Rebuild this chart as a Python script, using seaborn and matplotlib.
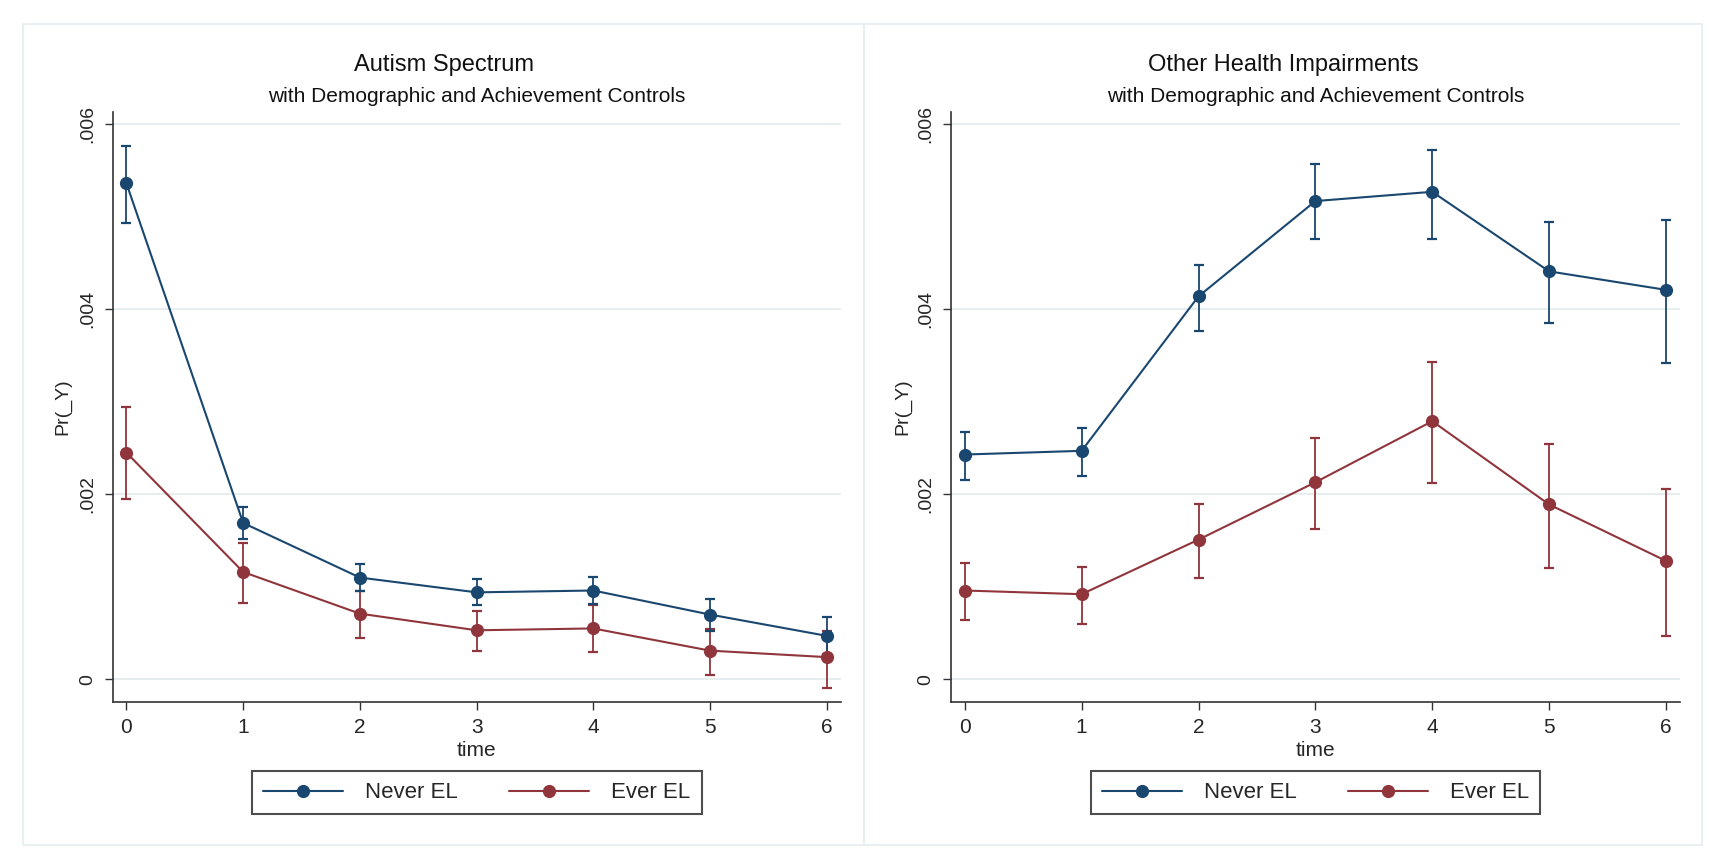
import matplotlib
matplotlib.use("Agg")
import matplotlib.pyplot as plt
from matplotlib import font_manager
from matplotlib.patches import Rectangle
import seaborn as sns
import pandas as pd

# ---- data -------------------------------------------------------------
time = [0, 1, 2, 3, 4, 5, 6]
groups = ["Never EL", "Ever EL"]
y_ticks = [0.0, 0.002, 0.004, 0.006]
y_tick_labels = ["0", ".002", ".004", ".006"]

panel_titles = ["Autism Spectrum", "Other Health Impairments"]
subtitle = "with Demographic and Achievement Controls"

autism_never = [0.00536, 0.00169, 0.00110, 0.00094, 0.00096, 0.00070, 0.00047]
autism_never_lo = [0.00493, 0.00152, 0.00096, 0.00080, 0.00081, 0.00052, 0.00027]
autism_never_hi = [0.00577, 0.00186, 0.00125, 0.00108, 0.00111, 0.00087, 0.00067]
autism_ever = [0.00245, 0.00116, 0.00071, 0.00053, 0.00055, 0.00031, 0.00024]
autism_ever_lo = [0.00195, 0.00082, 0.00045, 0.00031, 0.00029, 0.00005, -0.00009]
autism_ever_hi = [0.00294, 0.00147, 0.00095, 0.00074, 0.00080, 0.00054, 0.00052]

ohi_never = [0.00243, 0.00247, 0.00414, 0.00517, 0.00527, 0.00441, 0.00421]
ohi_never_lo = [0.00215, 0.00220, 0.00377, 0.00476, 0.00476, 0.00385, 0.00342]
ohi_never_hi = [0.00267, 0.00272, 0.00448, 0.00557, 0.00572, 0.00494, 0.00497]
ohi_ever = [0.00096, 0.00092, 0.00151, 0.00213, 0.00279, 0.00189, 0.00128]
ohi_ever_lo = [0.00064, 0.00060, 0.00110, 0.00163, 0.00212, 0.00120, 0.00047]
ohi_ever_hi = [0.00126, 0.00121, 0.00190, 0.00261, 0.00343, 0.00254, 0.00206]

# ---- style ------------------------------------------------------------
sns.set_theme(style="white")
installed = {f.name for f in font_manager.fontManager.ttflist}
narrow = "Liberation Sans Narrow" if "Liberation Sans Narrow" in installed else "Liberation Sans"
plt.rcParams["font.family"] = [narrow, "DejaVu Sans"]
rot_font = ["Liberation Sans", "DejaVu Sans"]

NAVY = "#1a476f"
MAROON = "#90353b"
GRID = "#e4ecee"
BORDER = "#e6eef0"
palette = {"Never EL": NAVY, "Ever EL": MAROON}

fig = plt.figure(figsize=(17.09, 8.55), dpi=100)
fig.patch.set_facecolor("white")

# layout in pixels of the 1709x855 canvas
W, H = 1709.0, 855.0
ax_bottom = 1 - 701.7 / H
ax_height = (701.7 - 111.7) / H
axes_px = [(112.7, 840.7), (951.0, 1680.0)]
ylabel_px = [62.7, 903.0]
title_x = [444.0, 1283.0]
panel_rects = [(23, 864), (864, 1702)]

panels = [
    (autism_never, autism_never_lo, autism_never_hi,
     autism_ever, autism_ever_lo, autism_ever_hi),
    (ohi_never, ohi_never_lo, ohi_never_hi,
     ohi_ever, ohi_ever_lo, ohi_ever_hi),
]

for i, (nv, nlo, nhi, ev, elo, ehi) in enumerate(panels):
    # light frame around each panel
    x0, x1 = panel_rects[i]
    fig.patches.append(Rectangle((x0 / W, 1 - 845 / H), (x1 - x0) / W, (845 - 24) / H,
                                 transform=fig.transFigure, fill=False,
                                 edgecolor=BORDER, linewidth=1.2, zorder=0))

    l, r = axes_px[i]
    ax = fig.add_axes([l / W, ax_bottom, (r - l) / W, ax_height])

    df = pd.DataFrame({
        "time": time * 2,
        "pr": nv + ev,
        "group": [groups[0]] * len(time) + [groups[1]] * len(time),
    })

    # confidence-interval caps
    for vals, lo, hi, g in [(ev, elo, ehi, "Ever EL"), (nv, nlo, nhi, "Never EL")]:
        err = [[v - a for v, a in zip(vals, lo)], [b - v for v, b in zip(vals, hi)]]
        ax.errorbar(time, vals, yerr=err, fmt="none", ecolor=palette[g],
                    elinewidth=1.3, capsize=3.6, capthick=1.6, zorder=2)

    sns.lineplot(data=df, x="time", y="pr", hue="group", hue_order=groups,
                 palette=palette, marker="o", markersize=9.5, markeredgewidth=0,
                 linewidth=1.5, errorbar=None, ax=ax, zorder=3)

    ax.set_xlim(-0.118, 6.12)
    ax.set_ylim(-0.000242, 0.006136)
    ax.set_yticks(y_ticks)
    ax.set_yticklabels(y_tick_labels, rotation=90, va="center",
                       family=rot_font, fontsize=14)
    ax.set_xticks(time)
    ax.set_xticklabels([str(t) for t in time], fontsize=15)
    ax.tick_params(axis="both", which="major", direction="out", length=6,
                   width=1, color="#333333", bottom=True, left=True, pad=6)

    for y in y_ticks:
        ax.axhline(y, color=GRID, linewidth=1.3, zorder=0)

    for s in ["top", "right"]:
        ax.spines[s].set_visible(False)
    for s in ["left", "bottom"]:
        ax.spines[s].set_color("#333333")
        ax.spines[s].set_linewidth(1.2)

    ax.set_xlabel("time", fontsize=15, va="center")
    ax.set_ylabel("Pr(_Y)", fontsize=14, family=rot_font, va="center")
    ax.xaxis.set_label_coords(0.5, ((1 - 750 / H) - ax_bottom) / ax_height)
    ax.yaxis.set_label_coords((ylabel_px[i] - l) / (r - l), 0.5)

    leg = ax.legend(loc="center", bbox_to_anchor=(0.5, ((1 - 792.8 / H) - ax_bottom) / ax_height),
                    ncol=2, frameon=True, fancybox=False, fontsize=16,
                    handlelength=3.6, handletextpad=1.0, columnspacing=2.3,
                    borderpad=0.5, borderaxespad=0, title=None)
    leg.get_frame().set_edgecolor("#222222")
    leg.get_frame().set_linewidth(1.5)

    fig.text(title_x[i] / W, 1 - 65 / H, panel_titles[i], ha="center", va="center",
             fontsize=17, color="#111111")
    fig.text((l + r) / 2 / W, 1 - 96.7 / H, subtitle, ha="center", va="center",
             fontsize=15, color="#111111")

fig.savefig("out.png", dpi=100, facecolor="white")
